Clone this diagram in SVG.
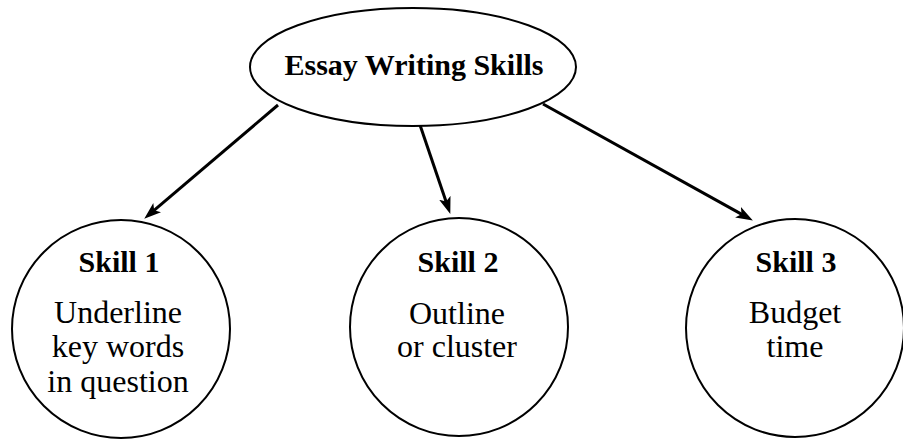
<svg xmlns="http://www.w3.org/2000/svg" width="903" height="439" viewBox="0 0 903 439">
<style>
.shape{fill:#fff;stroke:#000;stroke-width:2}
.title{font-family:"Liberation Serif","Times New Roman",serif;font-weight:bold;font-size:30px;text-anchor:middle;fill:#000}
.body{font-family:"Liberation Serif","Times New Roman",serif;font-size:32px;text-anchor:middle;fill:#000}
.conn{stroke:#000;stroke-width:3;fill:none;marker-end:url(#ah)}
</style>
<defs>
<marker id="ah" markerUnits="userSpaceOnUse" markerWidth="20" markerHeight="14" refX="8" refY="6" orient="auto">
<path d="M0,0 L17,6 L0,12 L4,6 Z" fill="#000"/>
</marker>
</defs>
<rect width="903" height="439" fill="#fff"/>
<g id="connectors">
<line class="conn" x1="278" y1="105" x2="151.1" y2="212.8"/>
<line class="conn" x1="420" y1="125" x2="447.4" y2="205.4"/>
<line class="conn" x1="543" y1="104" x2="745" y2="216.1"/>
</g>
<g id="root">
<ellipse class="shape" cx="413" cy="67" rx="163" ry="59"/>
<text class="title" x="414" y="75">Essay Writing Skills</text>
</g>
<g id="skill1">
<circle class="shape" cx="121" cy="329" r="109"/>
<text class="title" x="119" y="272">Skill 1</text>
<text class="body" x="118" y="323">Underline</text>
<text class="body" x="118" y="357">key words</text>
<text class="body" x="118" y="392">in question</text>
</g>
<g id="skill2">
<circle class="shape" cx="459" cy="327" r="109"/>
<text class="title" x="458" y="272">Skill 2</text>
<text class="body" x="457" y="324">Outline</text>
<text class="body" x="457" y="357">or cluster</text>
</g>
<g id="skill3">
<circle class="shape" cx="795" cy="328" r="109"/>
<text class="title" x="796" y="272">Skill 3</text>
<text class="body" x="795" y="323">Budget</text>
<text class="body" x="795" y="357">time</text>
</g>
</svg>
